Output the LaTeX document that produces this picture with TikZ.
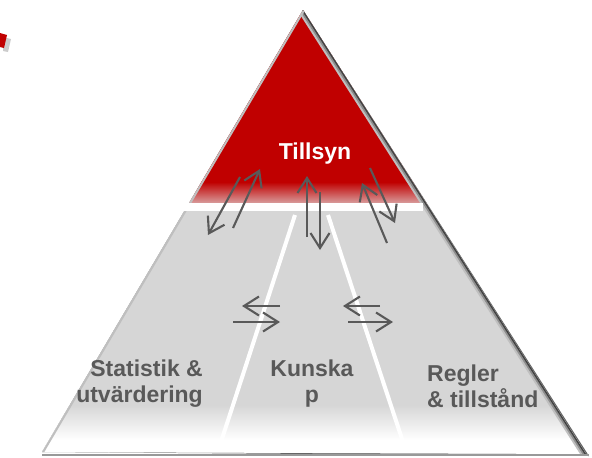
\documentclass[tikz,border=0pt]{standalone}
\usepackage{fontspec}
\setmainfont{Liberation Sans}
\usetikzlibrary{arrows.meta}
\definecolor{tillred}{HTML}{C00000}
\definecolor{palered}{HTML}{D9A3A3}
\definecolor{bodygray}{HTML}{D6D6D6}
\definecolor{txtgray}{HTML}{595959}
\tikzset{
  flow/.style={draw=txtgray, line width=2.1pt, -{Straight Barb[length=15pt,width=19pt]}},
  field/.style={font=\bfseries\fontsize{23}{26}\selectfont, text=txtgray, inner sep=0pt},
}

\begin{document}
\begin{tikzpicture}[x=1pt, y=-1pt]
  \useasboundingbox (0,0) rectangle (592,458);
  % red corner at the left
  \fill[black!20] (3,37) -- (11,39) -- (8,52) -- (3,51) -- cycle;
  \fill[tillred] (0,33) -- (7,35) -- (4,48) -- (0,47) -- cycle;
  % pyramid
  \fill[black!60] (303,10) -- (42,452) -- (589,456) -- cycle;
  \begin{scope}
    \clip (303,10) -- (42,452) -- (586,454) -- cycle;
    \fill[bodygray] (0,0) rectangle (592,458);
    \shade[top color=bodygray, bottom color=white] (0,405) rectangle (592,440);
    \fill[white] (0,440) rectangle (592,458);
    \fill[tillred] (0,0) rectangle (592,182);
    \shade[top color=tillred, bottom color=palered] (0,182) rectangle (592,204);
    \draw[line width=10pt, black!25] (303,10) -- (586,454);
    \draw[line width=6pt, black!45] (303,10) -- (586,454);
    \draw[line width=2.5pt, black!75] (303,10) -- (586,454);
    \draw[line width=4pt, white!75!black] (303,10) -- (42,452);
  \end{scope}
  \draw[line width=1.5pt, black!40] (42,455) -- (589,455);
  % bands
  \fill[white] (178,203) rectangle (423,211);
  \draw[white, line width=4pt] (295,215) -- (219,448);
  \draw[white, line width=4pt] (328,215) -- (405,448);
  % arrows
  \draw[flow] (233,228) -- (260,169);
  \draw[flow] (240,177) -- (208,235);
  \draw[flow] (307,237) -- (307,176);
  \draw[flow] (320,192) -- (320,250);
  \draw[flow] (370,168) -- (395,223);
  \draw[flow] (387,243) -- (362,183);
  \draw[flow] (280,306) -- (242,306);
  \draw[flow] (233,322) -- (280,322);
  \draw[flow] (380,306) -- (343,306);
  \draw[flow] (348,322) -- (393,322);
  % texts
  \node[field, text=white] (tillsyn) at (315,154) {Tillsyn};
  \node[field, align=right, anchor=east] (statistik) at (203,384) {Statistik \&\\utvärdering};
  \node[field, align=center] (kunskap) at (312,384) {Kunska\\p};
  \node[field, align=left, anchor=west] (regler) at (427,386) {Regler\\\& tillstånd};
\end{tikzpicture}
\end{document}
